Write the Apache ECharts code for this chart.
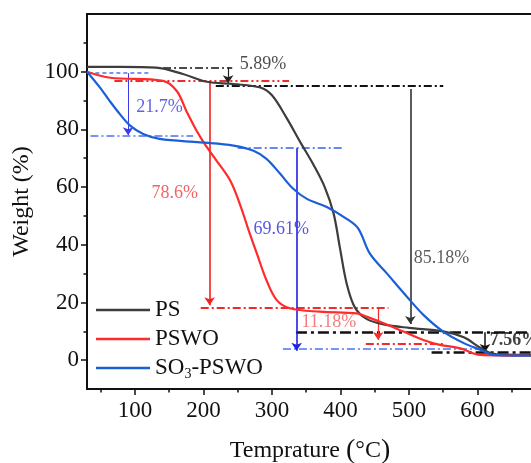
<!DOCTYPE html>
<html>
<head>
<meta charset="utf-8">
<script src="https://cdn.jsdelivr.net/npm/echarts@6/dist/echarts.min.js"></script>
<style>html,body{margin:0;padding:0;background:#fff;}#c{width:531px;height:463px;}</style>
</head>
<body>
<div id="c"></div>
<script>
// ---- data ----
const xMajorTicks = [100, 200, 300, 400, 500, 600];
const xMinorTicks = [50, 150, 250, 350, 450, 550, 650];
const yMajorTicks = [0, 20, 40, 60, 80, 100];
const yMinorTicks = [10, 30, 50, 70, 90, 110];

const psTemp   = [30, 80, 131, 170, 205, 244, 283, 300, 320, 343, 360, 377, 390, 399, 409, 421, 438, 463, 500, 550, 580, 604, 620, 640, 700];
const psWeight = [101.7, 101.7, 101.4, 99.2, 96.5, 95.7, 94.5, 91.8, 84.5, 74.9, 68.0, 60.0, 50.8, 39.2, 26.6, 18.3, 14.3, 12.4, 11.2, 10.0, 7.9, 4.3, 2.4, 1.9, 1.8];

const pswoTemp   = [30, 64, 141, 161, 175, 190, 202, 219, 239, 253, 266, 278, 292, 307, 326, 370, 424, 438, 463, 492, 521, 545, 575, 604, 640, 700];
const pswoWeight = [100, 97.9, 96.8, 93.3, 86.4, 79.5, 74.9, 69.2, 62.3, 54.2, 45.0, 36.9, 27.7, 20.8, 18.0, 16.8, 16.2, 15.1, 12.8, 9.9, 7.0, 5.3, 4.1, 1.8, 1.6, 1.5];

const so3Temp   = [30, 49, 63, 78, 93, 112, 136, 195, 244, 273, 292, 312, 331, 351, 380, 409, 426, 443, 468, 497, 521, 550, 580, 604, 623, 650, 700];
const so3Weight = [100, 94.5, 89.9, 85.3, 81.3, 78.4, 76.7, 75.5, 74.4, 72.6, 69.8, 64.6, 59.4, 55.9, 53.1, 49.0, 45.6, 36.9, 30.0, 22.0, 15.7, 9.9, 5.9, 3.6, 1.8, 1.6, 1.5];

// level lines: [xStart, xEnd, weight]
const blackLevels = [[141, 242, 101.5], [218, 550, 95.3], [335, 700, 9.7], [533, 700, 2.8]];
const redLevels   = [[70, 325, 96.8], [196, 470, 18.0], [437, 553, 5.7]];
const blueLevels  = [[32, 123, 99.5], [35, 185, 77.7], [250, 406, 73.5], [316, 600, 3.9]];
// arrows: [temperature, fromWeight, toWeight]
const blackArrows = [[236, 101.5, 96.0], [502, 94.0, 12.5], [611, 9.7, 2.8]];
const redArrows   = [[209, 96.8, 19.0], [455, 18.0, 7.0]];
const blueArrows  = [[90, 99.5, 78.0], [336, 73.5, 3.3]];
// labels: [temperature, weight, text]
const lossLabels = [
  [253, 102.6, '5.89%'],
  [507, 35.2, '85.18%'],
  [618, 7.0, '7.56%'],
  [124, 57.9, '78.6%'],
  [343, 13.2, '11.18%'],
  [102, 87.6, '21.7%'],
  [273, 45.4, '69.61%']
];

// ---- styles ----
const FONT = 'Liberation Serif';
const labelColors = ['#222', '#333', '#111', '#f03c3c', '#f25a5a', '#3838dd', '#2d2dd6'];
const labelWeights = ['normal', 'normal', 'bold', 'normal', 'normal', 'normal', 'normal'];
const dashDot = [8, 3, 2, 3];

function zip(xs, ys) { return xs.map((x, i) => [x, ys[i]]); }

function levelItems(levels, color, widths, dash) {
  return levels.map((l, i) => ({
    coords: [[l[0], l[2]], [l[1], l[2]]],
    lineStyle: { color: color[i] || color[0], width: widths[i], type: dash[i] || dashDot, opacity: 1 }
  }));
}
function arrowItems(arrows, colors, widths) {
  return arrows.map((a, i) => ({
    coords: [[a[0], a[1]], [a[0], a[2]]],
    lineStyle: { color: colors[i], width: widths[i], type: 'solid', opacity: 1 }
  }));
}

const chart = echarts.init(document.getElementById('c'), null, { renderer: 'canvas' });

const axisCommon = { type: 'value', min: 30, max: 700 };

const option = {
  animation: false,
  backgroundColor: '#fff',
  grid: {
    left: 87, top: 14, right: -15, bottom: 74,
    show: true, borderColor: '#111', borderWidth: 2,
    containLabel: false, outerBoundsMode: 'none'
  },
  legend: {
    data: ['PS', 'PSWO', 'SO3-PSWO'],
    orient: 'vertical',
    left: 91, top: 293,
    icon: 'rect',
    itemWidth: 54, itemHeight: 2.5, itemGap: 5,
    selectedMode: false,
    formatter: function (n) { return n === 'SO3-PSWO' ? 'SO{sub|3}-PSWO' : n; },
    textStyle: {
      fontFamily: FONT, fontSize: 23, color: '#111', lineHeight: 24, padding: [0, 0, 0, 0],
      rich: { sub: { fontFamily: FONT, fontSize: 14, color: '#111', padding: [12, 0, 0, 0] } }
    }
  },
  xAxis: [
    Object.assign({}, axisCommon, {
      name: 'Temprature {b|(}°C{b|)}',
      nameLocation: 'middle', nameGap: 48,
      nameTextStyle: {
        fontFamily: FONT, fontSize: 24, color: '#111', padding: [0, 13, 0, 0],
        rich: { b: { fontFamily: FONT, fontSize: 28, color: '#111' } }
      },
      axisLine: { show: true, onZero: false, lineStyle: { color: '#111', width: 2 } },
      axisTick: { show: true, inside: false, length: 6, customValues: xMajorTicks, lineStyle: { color: '#111', width: 1.5 } },
      axisLabel: { show: true, customValues: xMajorTicks, margin: 10, fontFamily: FONT, fontSize: 23, color: '#111' },
      splitLine: { show: false }
    }),
    Object.assign({}, axisCommon, {
      position: 'bottom',
      axisLine: { show: false, onZero: false },
      axisTick: { show: true, inside: false, length: 3.5, customValues: xMinorTicks, lineStyle: { color: '#111', width: 1.5 } },
      axisLabel: { show: false },
      splitLine: { show: false }
    })
  ],
  yAxis: [
    {
      type: 'value', min: -10, max: 120,
      name: 'Weight (%)', nameLocation: 'middle', nameGap: 50,
      nameTextStyle: { fontFamily: FONT, fontSize: 24, color: '#111' },
      axisLine: { show: true, onZero: false, lineStyle: { color: '#111', width: 2 } },
      axisTick: { show: true, inside: false, length: 6, customValues: yMajorTicks, lineStyle: { color: '#111', width: 1.5 } },
      axisLabel: { show: true, customValues: yMajorTicks, margin: 8, fontFamily: FONT, fontSize: 23, color: '#111' },
      splitLine: { show: false }
    },
    {
      type: 'value', min: -10, max: 120, position: 'left',
      axisLine: { show: false, onZero: false },
      axisTick: { show: true, inside: false, length: 3.5, customValues: yMinorTicks, lineStyle: { color: '#111', width: 1.5 } },
      axisLabel: { show: false },
      splitLine: { show: false }
    }
  ],
  series: [
    {
      name: 'black-levels', type: 'lines', coordinateSystem: 'cartesian2d', silent: true, z: 1,
      symbol: ['none', 'none'],
      data: levelItems(blackLevels, ['#111'], [1.5, 1.8, 2.6, 2.6], [dashDot, dashDot, [11, 4, 3, 4], [11, 4, 3, 4]])
    },
    {
      name: 'red-levels', type: 'lines', coordinateSystem: 'cartesian2d', silent: true, z: 1,
      symbol: ['none', 'none'],
      data: levelItems(redLevels, ['#f22a2a'], [2, 2.2, 2.2], [[8, 3, 2, 3, 2, 3], dashDot, dashDot])
    },
    {
      name: 'blue-levels', type: 'lines', coordinateSystem: 'cartesian2d', silent: true, z: 1,
      symbol: ['none', 'none'],
      data: levelItems(blueLevels, ['#4f72f0', '#4f72f0', '#6688f3', '#7796f5'], [1.6, 1.6, 1.8, 1.8], [[4, 3], dashDot, dashDot, dashDot])
    },
    {
      name: 'arrows', type: 'lines', coordinateSystem: 'cartesian2d', silent: true, z: 3,
      symbol: ['none', 'arrow'], symbolSize: 8,
      data: arrowItems(blackArrows, ['#222', '#333', '#111'], [1.2, 1.6, 1.5])
        .concat(arrowItems(redArrows, ['#f22020', '#f23030'], [1.6, 1.3]))
        .concat(arrowItems(blueArrows, ['#3a3ae8', '#2020e0'], [1, 1.6]))
    },
    {
      name: 'PS', type: 'line', data: zip(psTemp, psWeight), smooth: 0.35, symbol: 'none', z: 4,
      lineStyle: { color: '#3d3d3d', width: 2.2 }, itemStyle: { color: '#3d3d3d' }
    },
    {
      name: 'PSWO', type: 'line', data: zip(pswoTemp, pswoWeight), smooth: 0.35, symbol: 'none', z: 4,
      lineStyle: { color: '#ff2b2b', width: 2.2 }, itemStyle: { color: '#ff2b2b' }
    },
    {
      name: 'SO3-PSWO', type: 'line', data: zip(so3Temp, so3Weight), smooth: 0.35, symbol: 'none', z: 4,
      lineStyle: { color: '#1a5fd6', width: 2.2 }, itemStyle: { color: '#1a5fd6' }
    },
    {
      name: 'loss-labels', type: 'scatter', symbolSize: 0, silent: true, z: 6,
      data: lossLabels.map((l, i) => ({
        value: [l[0], l[1]],
        label: {
          show: true, position: 'right', distance: 0, formatter: l[2],
          fontFamily: FONT, fontSize: 18, color: labelColors[i], fontWeight: labelWeights[i]
        }
      }))
    }
  ]
};
chart.setOption(option);
</script>
</body>
</html>
